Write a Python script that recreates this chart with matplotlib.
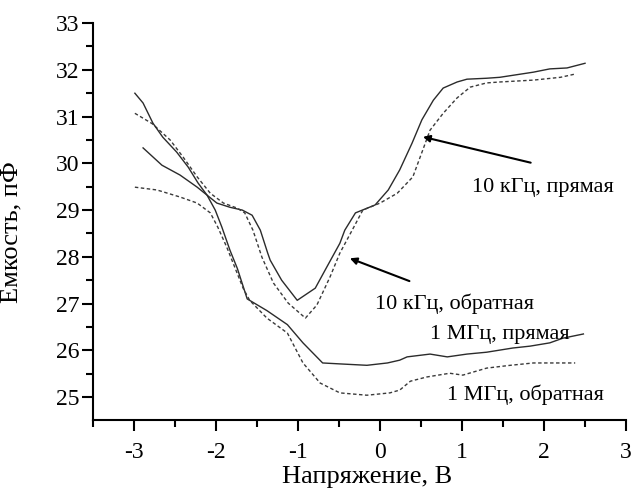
import matplotlib.pyplot as plt
from matplotlib.ticker import MultipleLocator
import numpy as np

plt.rcParams['font.family'] = ['Liberation Serif', 'DejaVu Serif']

# 10 kHz, forward (solid)
x_10k_fwd = [-2.89, -2.66, -2.44, -2.23, -2.11, -1.99, -1.83, -1.68, -1.56, -1.46,
             -1.37, -1.34, -1.20, -1.01, -0.79, -0.65, -0.49, -0.43, -0.30, -0.06,
             0.10, 0.24, 0.39, 0.51, 0.65, 0.77, 0.94, 1.06, 1.30, 1.46,
             1.87, 2.07, 2.28, 2.50]
y_10k_fwd = [30.33, 29.96, 29.75, 29.49, 29.32, 29.15, 29.06, 29.00, 28.89, 28.57,
             28.08, 27.93, 27.50, 27.07, 27.33, 27.78, 28.29, 28.57, 28.94, 29.11,
             29.43, 29.86, 30.43, 30.93, 31.35, 31.61, 31.74, 31.80, 31.82, 31.84,
             31.95, 32.02, 32.04, 32.14]

# 10 kHz, reverse (dashed)
x_10k_rev = [-2.99, -2.78, -2.56, -2.40, -2.23, -2.07, -1.91, -1.74, -1.65, -1.55,
             -1.44, -1.30, -1.12, -0.91, -0.77, -0.61, -0.49, -0.34, -0.21, 0.00,
             0.21, 0.40, 0.52, 0.61, 0.77, 0.94, 1.10, 1.30, 1.46, 1.87,
             2.20, 2.38]
y_10k_rev = [31.07, 30.85, 30.50, 30.13, 29.71, 29.36, 29.15, 29.04, 28.94, 28.57,
             27.99, 27.44, 27.01, 26.69, 26.97, 27.57, 28.08, 28.57, 29.00, 29.15,
             29.36, 29.71, 30.28, 30.71, 31.07, 31.40, 31.63, 31.72, 31.74, 31.78,
             31.84, 31.91]

# 1 MHz, forward (solid)
x_1m_fwd = [-2.99, -2.89, -2.77, -2.65, -2.48, -2.34, -2.22, -2.11, -2.01, -1.93,
            -1.83, -1.74, -1.62, -1.38, -1.13, -0.94, -0.70, -0.49, -0.16, 0.09,
            0.24, 0.33, 0.61, 0.82, 1.06, 1.30, 1.62, 1.83, 2.07, 2.23, 2.48]
y_1m_fwd = [31.50, 31.29, 30.86, 30.56, 30.24, 29.92, 29.58, 29.32, 29.00, 28.64,
            28.14, 27.75, 27.10, 26.85, 26.55, 26.16, 25.73, 25.71, 25.68, 25.73,
            25.79, 25.86, 25.92, 25.86, 25.92, 25.96, 26.05, 26.09, 26.16, 26.26, 26.35]

# 1 MHz, reverse (dashed)
x_1m_rev = [-2.99, -2.72, -2.44, -2.23, -2.07, -1.98, -1.87, -1.67, -1.59, -1.38,
            -1.13, -0.94, -0.73, -0.49, -0.16, 0.12, 0.24, 0.37, 0.57, 0.85,
            1.01, 1.30, 1.59, 1.87, 2.38]
y_1m_rev = [29.49, 29.43, 29.28, 29.15, 28.94, 28.64, 28.21, 27.33, 27.07, 26.69,
            26.37, 25.73, 25.30, 25.09, 25.04, 25.09, 25.15, 25.34, 25.43, 25.51,
            25.47, 25.62, 25.68, 25.73, 25.73]

fig = plt.figure(figsize=(6.33, 4.91), dpi=100)
ax = fig.add_axes([0.147, 0.1446, 0.842, 0.8084])

solid_kw = dict(color='#2b2b2b', lw=1.0, linestyle='-')
dash_kw = dict(color='#3a3a3a', lw=1.0, linestyle=(0, (2.5, 1.8)))
ax.plot(x_10k_fwd, y_10k_fwd, **solid_kw)
ax.plot(x_10k_rev, y_10k_rev, **dash_kw)
ax.plot(x_1m_fwd, y_1m_fwd, **solid_kw)
ax.plot(x_1m_rev, y_1m_rev, **dash_kw)

arrow = dict(arrowstyle='-|>', color='black', lw=1.5, mutation_scale=10)
ax.annotate('', xy=(0.49, 30.58), xytext=(1.87, 30.0), arrowprops=arrow)
ax.annotate('', xy=(-0.40, 27.99), xytext=(0.39, 27.46), arrowprops=arrow)

txt = dict(fontsize=16, va='center', ha='left')
ax.text(1.12, 29.49, '10 кГц, прямая', **txt)
ax.text(-0.06, 27.0, '10 кГц, обратная', **txt)
ax.text(0.61, 26.33, '1 МГц, прямая', **txt)
ax.text(0.82, 25.04, '1 МГц, обратная', **txt)

ax.set_xlim(-3.5, 3)
ax.set_ylim(24.51, 33)
ax.xaxis.set_minor_locator(MultipleLocator(0.5))
ax.yaxis.set_minor_locator(MultipleLocator(0.5))
ax.set_xticks([-3, -2, -1, 0, 1, 2, 3])
ax.set_xticklabels(['-3', '-2', '-1', '0', '1', '2', '3'])
ax.set_yticks([25, 26, 27, 28, 29, 30, 31, 32, 33])

for s in ['top', 'right']:
    ax.spines[s].set_visible(False)
for s in ['left', 'bottom']:
    ax.spines[s].set_linewidth(1.5)
ax.tick_params(which='major', direction='out', length=8, width=1.5, labelsize=17)
ax.tick_params(which='minor', direction='out', length=5, width=1.5)
ax.tick_params(axis='y', pad=2)
ax.tick_params(axis='x', pad=8)

ax.set_ylabel('Емкость, пФ', fontsize=19)
ax.yaxis.set_label_coords(-0.133, 0.474)
ax.set_xlabel('Напряжение, В', fontsize=19)
ax.xaxis.set_label_coords(0.514, -0.116)

fig.savefig('out.png', dpi=100)
